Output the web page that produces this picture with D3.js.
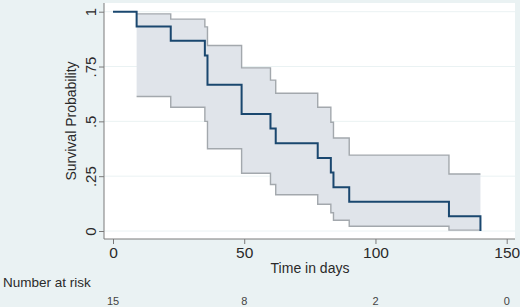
<!DOCTYPE html>
<html>
<head>
<meta charset="utf-8">
<script src="https://cdn.jsdelivr.net/npm/d3@7"></script>
<style>
    body { margin: 0; padding: 0; }
    text { font-family: "Liberation Sans", Arial, sans-serif; }
</style>
</head>
<body>
<div id="km"></div>
<script>
// Kaplan-Meier estimate
const times = [0, 9, 22, 35, 36, 49, 60, 62, 78, 83, 84, 90, 128, 140];
const survival = [1, 0.933, 0.867, 0.8, 0.667, 0.533, 0.467, 0.4, 0.333, 0.267, 0.2, 0.133, 0.067, 0];

// confidence band (starts at first event)
const ciTimes = [9, 22, 35, 36, 49, 60, 62, 78, 83, 84, 90, 128, 140];
const ciUpper = [0.99, 0.966, 0.931, 0.846, 0.744, 0.688, 0.628, 0.564, 0.496, 0.424, 0.346, 0.26, 0.26];
const ciLower = [0.613, 0.564, 0.5, 0.375, 0.263, 0.212, 0.165, 0.122, 0.083, 0.049, 0.022, 0.004, 0.004];

// axes and risk table
const xTicks = [0, 50, 100, 150];
const yTicks = [0, 0.25, 0.5, 0.75, 1];
const yTickLabels = ["0", ".25", ".5", ".75", "1"];
const riskTimes = [0, 50, 100, 150];
const riskCounts = [15, 8, 2, 0];

function km() {
    const W = 520, H = 307;
    // plot region (white box)
    const plot = {l: 104, r: 515, t: 3, b: 239};

    let svg = d3.select("#km")
        .append("svg")
        .attr("width", W)
        .attr("height", H);

    //Background
    svg.append("rect")
        .attr("width", W)
        .attr("height", H)
        .attr("fill", "#eaf2f3");
    svg.append("rect")
        .attr("x", plot.l)
        .attr("y", plot.t)
        .attr("width", plot.r - plot.l)
        .attr("height", plot.b - plot.t)
        .attr("fill", "#ffffff");

    let x = d3.scaleLinear().domain([0, 150]).range([113, 506.7]);
    let y = d3.scaleLinear().domain([0, 1]).range([231, 11.7]);

    //gridlines
    svg.append("g")
        .selectAll("line")
        .data(yTicks)
        .join("line")
        .attr("x1", plot.l)
        .attr("x2", plot.r)
        .attr("y1", d => y(d))
        .attr("y2", d => y(d))
        .attr("stroke", "#eaf2f3")
        .attr("stroke-width", 1);

    //CI band
    let band = ciTimes.map((t, i) => ({t: t, lo: ciLower[i], hi: ciUpper[i]}));
    let area = d3.area()
        .curve(d3.curveStepAfter)
        .x(d => x(d.t))
        .y0(d => y(d.lo))
        .y1(d => y(d.hi));
    svg.append("path")
        .attr("d", area(band))
        .attr("fill", "#e0e4ea")
        .attr("stroke", "none");

    let upperLine = d3.line().curve(d3.curveStepAfter).x(d => x(d.t)).y(d => y(d.hi));
    let lowerLine = d3.line().curve(d3.curveStepAfter).x(d => x(d.t)).y(d => y(d.lo));
    [upperLine, lowerLine].forEach(function(fn) {
        svg.append("path")
            .attr("d", fn(band))
            .attr("fill", "none")
            .attr("stroke", "#a3a8ad")
            .attr("stroke-width", 1.4);
    });

    //survival curve
    let surv = times.map((t, i) => ({t: t, s: survival[i]}));
    let line = d3.line()
        .curve(d3.curveStepAfter)
        .x(d => x(d.t))
        .y(d => y(d.s));
    svg.append("path")
        .attr("d", line(surv))
        .attr("fill", "none")
        .attr("stroke", "#1a476f")
        .attr("stroke-width", 2);

    //x axis
    let xAxis = d3.axisBottom(x).tickValues(xTicks).tickSize(5).tickPadding(3);
    let gx = svg.append("g")
        .attr("transform", `translate(0, ${plot.b})`)
        .call(xAxis);
    gx.select(".domain").attr("d", `M${plot.l},0H${plot.r}`);
    gx.selectAll("line, path").attr("stroke", "#7a7a7a");
    gx.selectAll("text")
        .attr("font-size", 15.5)
        .attr("fill", "#2a2a2a");

    //y axis, labels turned
    let yAxis = d3.axisLeft(y).tickValues(yTicks)
        .tickFormat((d, i) => yTickLabels[i])
        .tickSize(5);
    let gy = svg.append("g")
        .attr("transform", `translate(${plot.l}, 0)`)
        .call(yAxis);
    gy.select(".domain").attr("d", `M0,${plot.t}V${plot.b}`);
    gy.selectAll("line, path").attr("stroke", "#7a7a7a");
    gy.selectAll(".tick text")
        .attr("x", null)
        .attr("dy", null)
        .attr("transform", "translate(-8, 0) rotate(-90)")
        .attr("text-anchor", "middle")
        .attr("font-size", 15)
        .attr("fill", "#2a2a2a");

    //titles
    svg.append("text")
        .attr("x", 310)
        .attr("y", 273)
        .attr("text-anchor", "middle")
        .attr("font-size", 14)
        .attr("fill", "#2a2a2a")
        .text("Time in days");
    svg.append("text")
        .attr("transform", `translate(76, 121) rotate(-90)`)
        .attr("text-anchor", "middle")
        .attr("font-size", 14)
        .attr("fill", "#2a2a2a")
        .text("Survival Probability");

    //number at risk
    svg.append("text")
        .attr("x", 3)
        .attr("y", 287)
        .attr("font-size", 13.5)
        .attr("fill", "#2a2a2a")
        .text("Number at risk");
    svg.append("g")
        .selectAll("text")
        .data(riskTimes)
        .join("text")
        .attr("x", d => x(d))
        .attr("y", 305)
        .attr("text-anchor", "middle")
        .attr("font-size", 11)
        .attr("fill", "#444444")
        .text((d, i) => riskCounts[i]);
}
km();
</script>
</body>
</html>
